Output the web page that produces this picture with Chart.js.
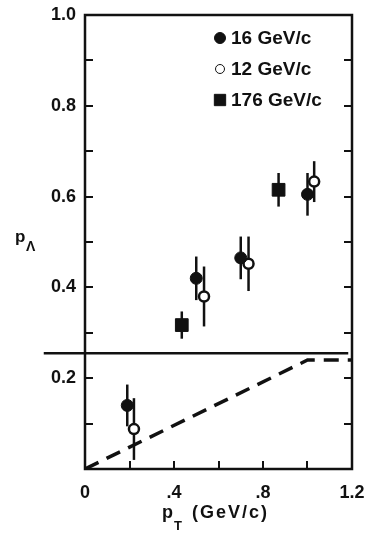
<!DOCTYPE html>
<html>
<head>
<meta charset="utf-8">
<script src="https://cdn.jsdelivr.net/npm/chart.js@4.4.1/dist/chart.umd.min.js"></script>
<style>
  html, body { margin: 0; padding: 0; background: #fff; }
</style>
</head>
<body>
<canvas id="polChart" width="366" height="542"></canvas>
<script>
  // 16 GeV/c (filled circles)
  const pt16 = [0.19, 0.50, 0.70, 1.00];
  const pol16 = [0.14, 0.42, 0.465, 0.605];
  const err16 = [0.046, 0.048, 0.047, 0.047];

  // 12 GeV/c (open circles)
  const pt12 = [0.22, 0.535, 0.735, 1.03];
  const pol12 = [0.088, 0.38, 0.452, 0.633];
  const err12 = [0.068, 0.066, 0.06, 0.045];

  // 176 GeV/c (squares)
  const pt176 = [0.435, 0.87];
  const pol176 = [0.317, 0.615];
  const err176 = [0.03, 0.037];

  // dashed curve
  const curvePt = [0, 1.0, 1.2];
  const curvePol = [0, 0.24, 0.24];

  // solid horizontal line across the plot
  const cutLevel = 0.255;

  const seriesLabels = ['16 GeV/c', '12 GeV/c', '176 GeV/c'];
  const xTickLabels = ['0', '', '.4', '', '.8', '', '1.2'];          // every 0.2
  const yTickLabels = ['', '', '0.2', '', '0.4', '', '0.6', '', '0.8', '', '1.0']; // every 0.1

  const INK = '#111';
  const FONT = '"Liberation Sans", Arial, Helvetica, sans-serif';

  function toPoints(xs, ys) {
    return xs.map((x, i) => ({ x: x, y: ys[i] }));
  }

  // vertical error bars, drawn under the markers
  const errorBars = {
    id: 'errorBars',
    beforeDatasetsDraw(chart) {
      const ctx = chart.ctx, ys = chart.scales.y;
      ctx.save();
      ctx.strokeStyle = INK;
      ctx.lineWidth = 2.5;
      chart.data.datasets.forEach((ds, di) => {
        if (!ds.errors) return;
        chart.getDatasetMeta(di).data.forEach((pt, i) => {
          const v = ds.data[i].y, e = ds.errors[i];
          ctx.beginPath();
          ctx.moveTo(pt.x, ys.getPixelForValue(v + e));
          ctx.lineTo(pt.x, ys.getPixelForValue(v - e));
          ctx.stroke();
        });
      });
      ctx.restore();
    }
  };

  // box, inward ticks, horizontal line, legend and axis titles
  const frame = {
    id: 'frame',
    afterDatasetsDraw(chart) {
      const ctx = chart.ctx, a = chart.chartArea;
      const xs = chart.scales.x, ys = chart.scales.y;
      ctx.save();
      ctx.strokeStyle = INK;
      ctx.lineCap = 'square';

      ctx.lineWidth = 2;
      ys.ticks.forEach(t => {
        const y = Math.round(ys.getPixelForValue(t.value));
        if (y <= a.top + 1 || y >= a.bottom - 1) return;
        ctx.beginPath();
        ctx.moveTo(a.left, y); ctx.lineTo(a.left + 7, y);
        ctx.moveTo(a.right, y); ctx.lineTo(a.right - 7, y);
        ctx.stroke();
      });
      xs.ticks.forEach(t => {
        const x = Math.round(xs.getPixelForValue(t.value));
        if (x <= a.left + 1 || x >= a.right - 1) return;
        ctx.beginPath();
        ctx.moveTo(x, a.bottom); ctx.lineTo(x, a.bottom - 7);
        ctx.stroke();
      });

      ctx.lineWidth = 2.5;
      ctx.strokeRect(a.left, a.top, a.right - a.left, a.bottom - a.top);

      const cy = ys.getPixelForValue(cutLevel);
      ctx.beginPath();
      ctx.moveTo(a.left - 40, cy);
      ctx.lineTo(a.right - 5, cy);
      ctx.stroke();
      ctx.restore();
    },
    afterDraw(chart) {
      const ctx = chart.ctx, a = chart.chartArea;
      ctx.save();
      ctx.fillStyle = INK;
      ctx.textBaseline = 'middle';

      // legend
      const lx = a.left + 135, ly = a.top + 23;
      chart.data.datasets.forEach((ds, i) => {
        if (!ds.errors) return;
        const y = ly + i * 31;
        ctx.fillStyle = ds.backgroundColor;
        ctx.strokeStyle = ds.borderColor;
        Chart.helpers.drawPoint(ctx, {
          pointStyle: ds.pointStyle, rotation: 0,
          radius: ds.pointStyle === 'rect' ? 8 : ds.pointRadius - 0.5,
          borderWidth: ds.borderWidth
        }, lx, y);
        ctx.fillStyle = INK;
        ctx.font = 'bold 19px ' + FONT;
        ctx.textAlign = 'left';
        ctx.fillText(ds.label, lx + 11, y + 1);
      });

      // y title
      ctx.textBaseline = 'alphabetic';
      ctx.font = 'bold 17px ' + FONT;
      ctx.fillText('p', 15, 242);
      ctx.font = 'bold 14px ' + FONT;
      ctx.fillText('Λ', 26, 251);

      // x title
      ctx.font = 'bold 18px ' + FONT;
      ctx.fillText('p', 162, 518);
      ctx.font = 'bold 13px ' + FONT;
      ctx.fillText('T', 174, 530);
      ctx.font = 'bold 18px ' + FONT;
      ctx.letterSpacing = '2px';
      ctx.fillText('(GeV/c)', 192, 518);
      ctx.restore();
    }
  };

  const ctx = document.getElementById('polChart').getContext('2d');
  const polChart = new Chart(ctx, {
    type: 'scatter',
    data: {
      datasets: [
        {
          label: seriesLabels[0],
          data: toPoints(pt16, pol16),
          errors: err16,
          pointStyle: 'circle',
          pointRadius: 6,
          backgroundColor: INK,
          borderColor: INK,
          borderWidth: 1
        },
        {
          label: seriesLabels[1],
          data: toPoints(pt12, pol12),
          errors: err12,
          pointStyle: 'circle',
          pointRadius: 5,
          backgroundColor: '#fff',
          borderColor: INK,
          borderWidth: 2.5
        },
        {
          label: seriesLabels[2],
          data: toPoints(pt176, pol176),
          errors: err176,
          pointStyle: 'rect',
          pointRadius: 9,
          backgroundColor: INK,
          borderColor: INK,
          borderWidth: 1
        },
        {
          type: 'line',
          label: 'curve',
          data: toPoints(curvePt, curvePol),
          showLine: true,
          pointRadius: 0,
          borderColor: INK,
          borderWidth: 3.5,
          borderDash: [15, 9],
          fill: false
        }
      ]
    },
    options: {
      responsive: false,
      animation: false,
      layout: { padding: { top: 15, right: 14, left: 0, bottom: 0 } },
      plugins: {
        legend: { display: false },
        tooltip: { enabled: false }
      },
      scales: {
        x: {
          type: 'linear',
          min: 0,
          max: 1.2,
          afterFit: s => { s.height = 73; s.paddingLeft = 0; s.paddingRight = 0; },
          grid: { display: false, drawTicks: false },
          border: { display: false },
          ticks: {
            stepSize: 0.2,
            autoSkip: false,
            maxRotation: 0,
            padding: 13,
            color: INK,
            font: { family: FONT, size: 18, weight: 'bold' },
            callback: v => xTickLabels[Math.round(v / 0.2)]
          }
        },
        y: {
          type: 'linear',
          min: 0,
          max: 1.0,
          afterFit: s => { s.width = 85; s.paddingTop = 0; s.paddingBottom = 0; },
          grid: { display: false, drawTicks: false },
          border: { display: false },
          ticks: {
            stepSize: 0.1,
            autoSkip: false,
            padding: 9,
            color: INK,
            font: { family: FONT, size: 18, weight: 'bold' },
            callback: v => yTickLabels[Math.round(v / 0.1)]
          }
        }
      }
    },
    plugins: [errorBars, frame]
  });
</script>
</body>
</html>
